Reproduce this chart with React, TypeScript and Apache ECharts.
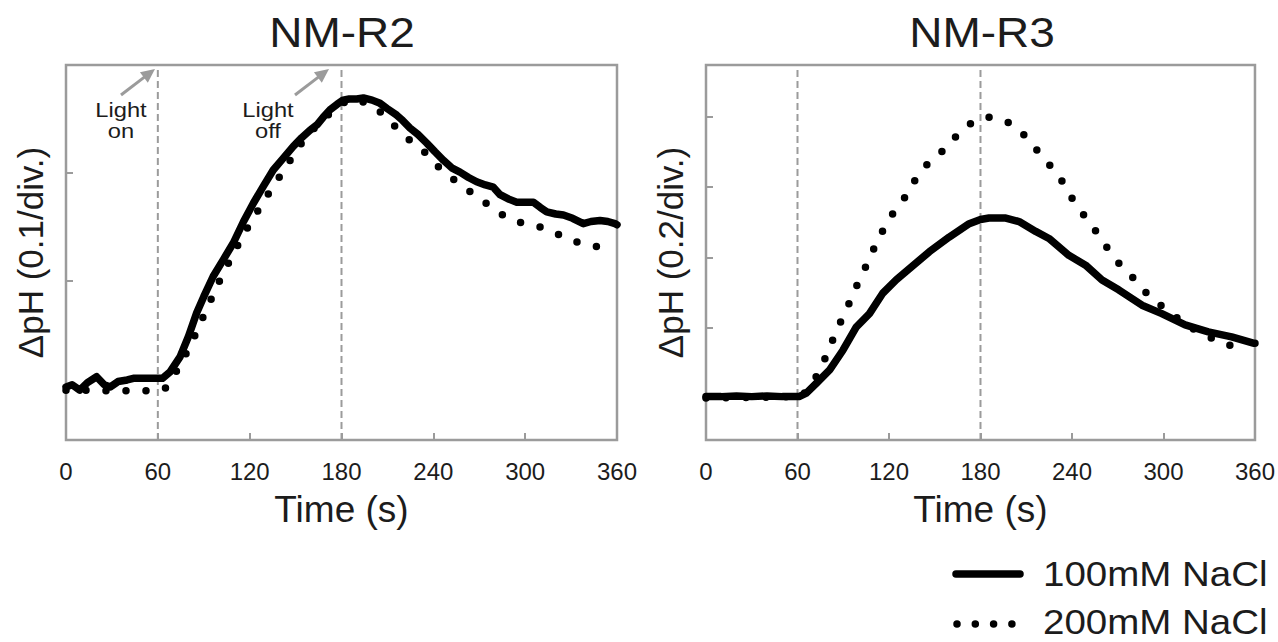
import React, { useEffect, useRef } from "react";
import * as echarts from "echarts";

const FONT = '"Liberation Sans", Arial, Helvetica, sans-serif';

// x axis (time, s)
const X_MIN = 0;
const X_MAX = 360;
const X_STEP = 60;
const LIGHT_ON = 60;
const LIGHT_OFF = 180;

// Panel titles / axis names
const TITLES = ["NM-R2", "NM-R3"];
const Y_NAMES = ["\u0394pH (0.1/div.)", "\u0394pH (0.2/div.)"];
const X_NAME = "Time (s)";
const SERIES_NAMES = ["100mM NaCl", "200mM NaCl"];
const NOTE_ON = "Light\non";
const NOTE_OFF = "Light\noff";

// y ranges in divisions
const R2_Y = [-0.484, 3.007];
const R3_Y = [-0.597, 4.737];
const R2_TICKS = [1, 2];
const R3_TICKS = [1, 2, 3, 4];

// NM-R2, 100 mM NaCl (solid)
const R2_100_T = [0, 4, 9, 14, 20, 25, 29, 34, 40, 44, 50, 56, 63, 68, 74.5, 80, 85.4, 90, 96.2, 103, 109.3, 116, 122.4, 129, 135.4, 142, 148.5, 154, 159.4, 164, 168, 172.5, 177, 181, 185, 190, 194.3, 200, 205.2, 210, 216.1, 220, 224.8, 230, 235.7, 241, 246.6, 252, 257.4, 263, 268.3, 274, 279.2, 283.6, 289, 294.5, 300, 305.4, 310, 314.1, 320, 325, 331, 338, 343, 348.9, 354, 358.7, 360];
const R2_100_V = [0.01, 0.03, -0.02, 0.05, 0.105, 0.03, 0.01, 0.06, 0.075, 0.09, 0.09, 0.09, 0.09, 0.15, 0.29, 0.48, 0.7, 0.85, 1.04, 1.2, 1.35, 1.55, 1.72, 1.88, 2.03, 2.14, 2.25, 2.33, 2.4, 2.45, 2.52, 2.59, 2.64, 2.68, 2.69, 2.69, 2.7, 2.68, 2.65, 2.6, 2.54, 2.49, 2.42, 2.36, 2.28, 2.2, 2.12, 2.05, 2.01, 1.96, 1.92, 1.89, 1.87, 1.8, 1.76, 1.73, 1.73, 1.73, 1.68, 1.64, 1.62, 1.61, 1.58, 1.53, 1.55, 1.56, 1.55, 1.53, 1.52];

// NM-R2, 200 mM NaCl (dotted)
const R2_200_T = [0, 9, 20, 33.5, 46.6, 60.6, 65, 69, 75.6, 82.1, 87.1, 92.3, 97.4, 103.2, 109.3, 115.8, 122.4, 128.9, 136, 143.1, 150.7, 158, 166, 174, 182, 189, 196.5, 206.3, 216.1, 225.9, 235.7, 243.9, 252.4, 262.9, 272.7, 282.9, 293.4, 305.4, 316.2, 326, 337.6, 349.5];
const R2_200_V = [-0.02, -0.02, -0.025, -0.025, -0.025, -0.025, 0.0, 0.075, 0.245, 0.416, 0.587, 0.742, 0.912, 1.083, 1.248, 1.425, 1.58, 1.735, 1.89, 2.045, 2.216, 2.36, 2.47, 2.58, 2.66, 2.69, 2.65, 2.56, 2.42, 2.29, 2.18, 2.05, 1.95, 1.84, 1.74, 1.63, 1.55, 1.52, 1.47, 1.4, 1.34, 1.31];

// NM-R3, 100 mM NaCl (solid)
const R3_100_T = [0, 10, 20, 30, 40, 50, 61, 65.8, 72.4, 81.1, 89.8, 98.5, 107.2, 115.9, 124.7, 133.4, 146.4, 159.5, 172.6, 180, 185.6, 196.6, 205.3, 216.2, 224.9, 237.9, 248.9, 259.7, 270.6, 285.9, 298.9, 314.2, 329.4, 344.7, 358.9, 360];
const R3_100_V = [0.02, 0.02, 0.03, 0.02, 0.03, 0.02, 0.02, 0.07, 0.21, 0.4, 0.68, 1.01, 1.2, 1.49, 1.68, 1.84, 2.08, 2.29, 2.48, 2.54, 2.56, 2.56, 2.51, 2.37, 2.27, 2.03, 1.89, 1.68, 1.54, 1.32, 1.2, 1.04, 0.94, 0.87, 0.78, 0.78];

// NM-R3, 200 mM NaCl (dotted)
const R3_200_T = [0, 62, 66, 71.9, 77.8, 82.8, 88, 93.7, 98.9, 104.6, 110, 115.9, 122.4, 130.3, 137.1, 144.9, 154.5, 163.4, 173.2, 184.5, 197, 207.4, 215.7, 224.4, 232.5, 239.1, 246.5, 254.5, 261.7, 269.3, 278.5, 286.5, 296.3, 307, 317.5, 328, 339.7, 350.5];
const R3_200_V = [0.0, 0.02, 0.1, 0.29, 0.55, 0.81, 1.07, 1.34, 1.6, 1.86, 2.12, 2.38, 2.62, 2.85, 3.1, 3.32, 3.5, 3.71, 3.9, 4.0, 3.94, 3.77, 3.56, 3.34, 3.12, 2.87, 2.64, 2.41, 2.18, 1.95, 1.75, 1.54, 1.35, 1.17, 1.01, 0.88, 0.79, 0.68];

const zip = (t: number[], v: number[]) => t.map((x, i) => [x, v[i]]);

const GRAY = "#9b9b9b";
const TEXT = "#1c1c1c";

function arrow(x0: number, y0: number, x1: number, y1: number) {
  const dx = x1 - x0;
  const dy = y1 - y0;
  const len = Math.sqrt(dx * dx + dy * dy);
  const ux = dx / len;
  const uy = dy / len;
  const head = 14;
  const half = 6.5;
  const bx = x1 - head * ux;
  const by = y1 - head * uy;
  const px = -uy;
  const py = ux;
  return [
    {
      type: "line",
      shape: { x1: x0, y1: y0, x2: bx + ux, y2: by + uy },
      style: { stroke: GRAY, lineWidth: 3 },
      silent: true,
    },
    {
      type: "polygon",
      shape: {
        points: [
          [x1, y1],
          [bx + half * px, by + half * py],
          [bx - half * px, by - half * py],
        ],
      },
      style: { fill: GRAY },
      silent: true,
    },
  ];
}

function label(text: string, x: number, y: number, size: number, sx: number, align: string, valign: string, lh?: number) {
  return {
    type: "text",
    x,
    y,
    scaleX: sx,
    style: {
      text,
      fontSize: size,
      lineHeight: lh || size,
      fill: TEXT,
      fontFamily: FONT,
      textAlign: align,
      textVerticalAlign: valign,
    },
  };
}

export default function App() {
  const ref = useRef<HTMLDivElement>(null);

  useEffect(() => {
    document.body.style.margin = "0";
    const chart = echarts.init(ref.current!, null, { renderer: "svg" });

    const grids = [
      { left: 66, top: 65, width: 551, height: 375 },
      { left: 706, top: 65, width: 551, height: 375 },
    ].map((g) => ({
      ...g,
      show: true,
      borderColor: GRAY,
      borderWidth: 2.5,
      backgroundColor: "transparent",
      z: 0,
    }));

    const xAxes = [0, 1].map((i) => ({
      type: "value",
      gridIndex: i,
      min: X_MIN,
      max: X_MAX,
      interval: X_STEP,
      axisLine: { show: false, onZero: false },
      axisTick: { show: true, inside: true, length: 7, lineStyle: { color: GRAY, width: 2 } },
      axisLabel: { fontSize: 24, color: TEXT, margin: 19, fontFamily: FONT },
      splitLine: { show: false },
      name: X_NAME,
      nameLocation: "middle",
      nameGap: 51,
      nameTextStyle: { fontSize: 37, color: TEXT, fontFamily: FONT },
    }));

    const yRanges = [R2_Y, R3_Y];
    const yTicks = [R2_TICKS, R3_TICKS];
    const yAxes = [0, 1].map((i) => ({
      type: "value",
      gridIndex: i,
      min: yRanges[i][0],
      max: yRanges[i][1],
      axisLine: { show: false, onZero: false },
      axisTick: {
        show: true,
        inside: true,
        length: 7,
        customValues: yTicks[i],
        lineStyle: { color: GRAY, width: 2 },
      },
      axisLabel: { show: false },
      splitLine: { show: false },
      name: Y_NAMES[i],
      nameLocation: "middle",
      nameGap: 18,
      nameTextStyle: { fontSize: 35, color: TEXT, fontFamily: FONT },
    }));

    const vline = (i: number, x: number) => ({
      type: "line",
      xAxisIndex: i,
      yAxisIndex: i,
      data: [
        [x, yRanges[i][0]],
        [x, yRanges[i][1]],
      ],
      symbol: "none",
      silent: true,
      z: 1,
      lineStyle: { color: GRAY, width: 2, type: [7, 4] },
    });

    const solid = (i: number, t: number[], v: number[]) => ({
      type: "line",
      name: SERIES_NAMES[0],
      xAxisIndex: i,
      yAxisIndex: i,
      data: zip(t, v),
      symbol: "none",
      z: 3,
      lineStyle: { color: "#000", width: 7.5, cap: "round", join: "round" },
    });

    const dotted = (i: number, t: number[], v: number[]) => ({
      type: "line",
      name: SERIES_NAMES[1],
      xAxisIndex: i,
      yAxisIndex: i,
      data: zip(t, v),
      symbol: "none",
      z: 2,
      lineStyle: { color: "#000", width: 7.5, type: [0, 20], cap: "round", join: "round" },
    });

    const graphic: any[] = [
      label(TITLES[0], 342, 32, 43, 1.07, "center", "middle"),
      label(TITLES[1], 982, 32, 43, 1.07, "center", "middle"),
      label(NOTE_ON, 121, 99, 21, 1.13, "center", "top", 21),
      label(NOTE_OFF, 268, 99, 21, 1.13, "center", "top", 21),
      ...arrow(121, 95, 155, 69),
      ...arrow(295, 95, 329, 69),
      {
        type: "line",
        shape: { x1: 956, y1: 574, x2: 1020, y2: 574 },
        style: { stroke: "#000", lineWidth: 7.5, lineCap: "round" },
      },
      {
        type: "line",
        shape: { x1: 957, y1: 624, x2: 1013, y2: 624 },
        style: { stroke: "#000", lineWidth: 7.5, lineCap: "round", lineDash: [0, 18.3] },
      },
      label(SERIES_NAMES[0], 1043, 574, 35, 1.1, "left", "middle"),
      label(SERIES_NAMES[1], 1043, 622, 35, 1.1, "left", "middle"),
    ];

    chart.setOption({
      animation: false,
      backgroundColor: "#fff",
      textStyle: { fontFamily: FONT },
      grid: grids,
      xAxis: xAxes,
      yAxis: yAxes,
      series: [
        vline(0, LIGHT_ON),
        vline(0, LIGHT_OFF),
        vline(1, LIGHT_ON),
        vline(1, LIGHT_OFF),
        dotted(0, R2_200_T, R2_200_V),
        solid(0, R2_100_T, R2_100_V),
        dotted(1, R3_200_T, R3_200_V),
        solid(1, R3_100_T, R3_100_V),
      ],
      graphic,
    });

    return () => chart.dispose();
  }, []);

  return <div ref={ref} style={{ width: 1278, height: 642 }} />;
}
